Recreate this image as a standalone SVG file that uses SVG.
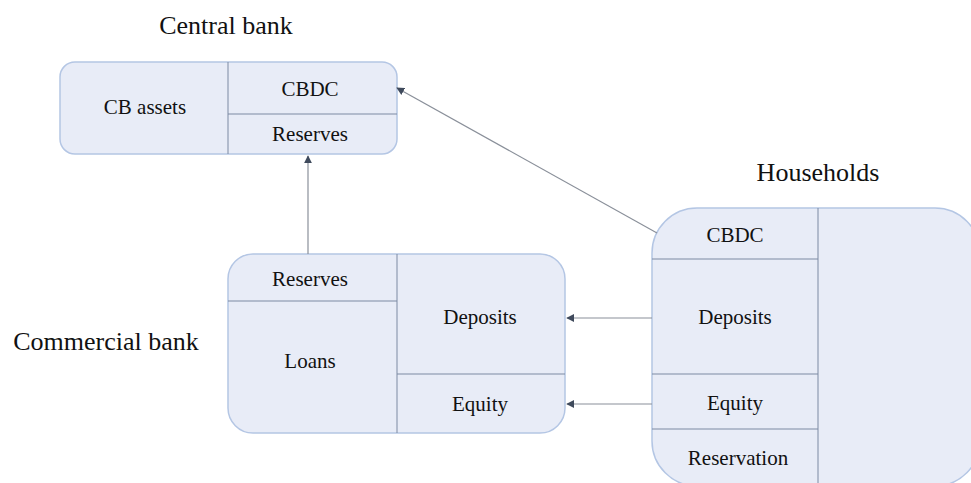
<svg xmlns="http://www.w3.org/2000/svg" width="971" height="483" viewBox="0 0 971 483">
<defs>
<style>
.box{fill:#E8ECF7;stroke:#B4C6E4;stroke-width:1.5}
.div{stroke:#7D8AA3;stroke-width:1;fill:none}
.t{font-family:"Liberation Serif","Times New Roman",serif;font-size:21px;fill:#111;text-anchor:middle}
.title{font-family:"Liberation Serif","Times New Roman",serif;font-size:26px;fill:#111;text-anchor:middle}
.con{stroke:#8A909A;stroke-width:1.2;fill:none;marker-end:url(#ah)}
</style>
<marker id="ah" viewBox="0 0 10 10" refX="9" refY="5" markerWidth="8" markerHeight="8" markerUnits="userSpaceOnUse" orient="auto">
<path d="M0,0 L10,5 L0,10 z" fill="#3F4A5C"/>
</marker>
</defs>
<rect width="971" height="483" fill="#fff"/>
<text class="title" x="226" y="34">Central bank</text>
<text class="title" x="818" y="181">Households</text>
<text class="title" x="106" y="350">Commercial bank</text>
<g id="central-bank">
<rect class="box" x="60" y="62" width="337" height="92" rx="15"/>
<line class="div" x1="228" y1="62" x2="228" y2="154"/>
<line class="div" x1="228" y1="114" x2="397" y2="114"/>
<text class="t" x="145" y="114">CB assets</text>
<text class="t" x="310" y="96">CBDC</text>
<text class="t" x="310" y="141">Reserves</text>
</g>
<g id="commercial-bank">
<rect class="box" x="228" y="254" width="337" height="179" rx="25"/>
<line class="div" x1="397" y1="254" x2="397" y2="433"/>
<line class="div" x1="228" y1="301" x2="397" y2="301"/>
<line class="div" x1="397" y1="374" x2="565" y2="374"/>
<text class="t" x="310" y="286">Reserves</text>
<text class="t" x="310" y="368">Loans</text>
<text class="t" x="480" y="324">Deposits</text>
<text class="t" x="480" y="411">Equity</text>
</g>
<g id="households">
<rect class="box" x="652" y="208" width="328" height="278" rx="45"/>
<line class="div" x1="818" y1="208" x2="818" y2="486"/>
<line class="div" x1="652" y1="259" x2="818" y2="259"/>
<line class="div" x1="652" y1="374" x2="818" y2="374"/>
<line class="div" x1="652" y1="429" x2="818" y2="429"/>
<text class="t" x="735" y="242">CBDC</text>
<text class="t" x="735" y="324">Deposits</text>
<text class="t" x="735" y="410">Equity</text>
<text class="t" x="738" y="465">Reservation</text>
</g>
<g id="connectors">
<line class="con" x1="657" y1="233" x2="397" y2="88"/>
<line class="con" x1="308" y1="254" x2="308" y2="156"/>
<line class="con" x1="652" y1="318" x2="567" y2="318"/>
<line class="con" x1="652" y1="404" x2="567" y2="404"/>
</g>
</svg>
